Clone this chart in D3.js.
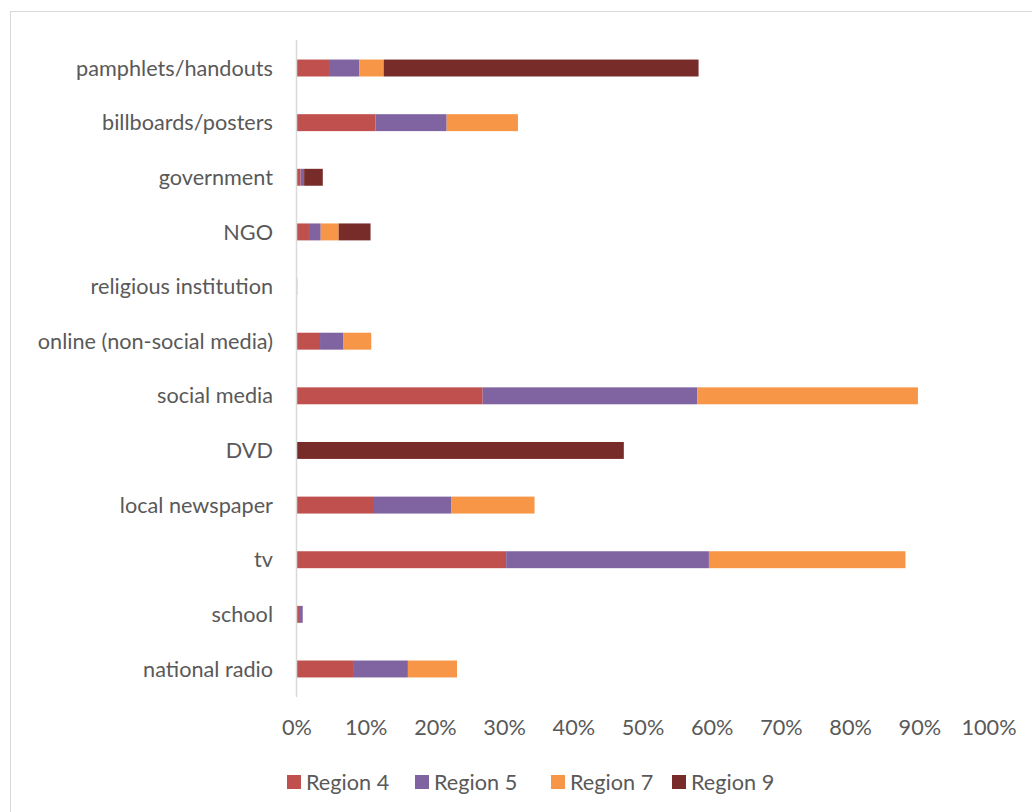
<!DOCTYPE html>
<html>
<head>
<meta charset="utf-8">
<script src="https://cdn.jsdelivr.net/npm/d3@7"></script>
<style>
  html, body { margin: 0; padding: 0; background: #fff; }
  svg { display: block; }
  text { font-family: Lato, "Open Sans", sans-serif; fill: #595959; }
</style>
</head>
<body>
<svg id="chart" width="1032" height="812"></svg>
<script>
const categories = ["pamphlets/handouts", "billboards/posters", "government", "NGO",
  "religious institution", "online (non-social media)", "social media", "DVD",
  "local newspaper", "tv", "school", "national radio"];
const seriesNames = ["Region 4", "Region 5", "Region 7", "Region 9"];
const region4 = [4.7, 11.4, 0.6, 1.8, 0.1, 3.4, 26.9, 0, 11.2, 30.3, 0.5, 8.3];
const region5 = [4.4, 10.3, 0.5, 1.7, 0, 3.4, 31.0, 0, 11.2, 29.3, 0.4, 7.8];
const region7 = [3.5, 10.3, 0, 2.6, 0, 4.0, 31.9, 0, 12.0, 28.4, 0, 7.1];
const region9 = [45.5, 0, 2.7, 4.6, 0, 0, 0, 47.3, 0, 0, 0, 0];
const colors = ["#C0504D", "#8064A2", "#F79646", "#772C2A"];
const xTicks = [0, 10, 20, 30, 40, 50, 60, 70, 80, 90, 100];

const seriesValues = [region4, region5, region7, region9];
const table = categories.map((c, i) => {
  const row = { cat: c };
  seriesNames.forEach((s, j) => row[s] = seriesValues[j][i]);
  return row;
});

const svg = d3.select("#chart");

// fit font size so label widths resemble the original
const probe = svg.append("text").attr("font-size", 100).text("pamphlets/handouts");
const w100 = probe.node().getComputedTextLength();
probe.remove();
const fs = Math.min(24, 100 * 197 / w100);

// outer frame
svg.append("rect").attr("x", 10.5).attr("y", 11.5).attr("width", 1040).attr("height", 820)
  .attr("fill", "none").attr("stroke", "#d9d9d9").attr("stroke-width", 1);

const x = d3.scaleLinear().domain([0, 100]).range([296.5, 988.5]);
const y = d3.scaleBand().domain(categories).range([40.7, 696.3]).paddingInner(0.69).paddingOuter(0.345);

const stack = d3.stack().keys(seriesNames)(table);

svg.append("g").selectAll("g").data(stack).join("g")
  .attr("fill", (d, i) => colors[i])
  .selectAll("rect").data(d => d).join("rect")
  .attr("x", d => x(d[0]))
  .attr("y", d => y(d.data.cat))
  .attr("width", d => Math.max(0, x(d[1]) - x(d[0])))
  .attr("height", y.bandwidth());

// vertical axis line
svg.append("line").attr("x1", 296.5).attr("x2", 296.5).attr("y1", 40).attr("y2", 697)
  .attr("stroke", "#d9d9d9").attr("stroke-width", 1.5);

// category labels
svg.append("g").selectAll("text").data(categories).join("text")
  .attr("x", 273).attr("y", d => y(d) + y.bandwidth() / 2)
  .attr("dy", "0.35em").attr("text-anchor", "end").attr("font-size", fs)
  .text(d => d);

// x tick labels
const xAxis = d3.axisBottom(x).tickValues(xTicks).tickFormat(d => d + "%").tickSize(0).tickPadding(0);
const gx = svg.append("g").attr("transform", "translate(0,720)").call(xAxis);
gx.select(".domain").remove();
gx.selectAll("text").attr("font-size", fs).attr("font-family", "Lato, 'Open Sans', sans-serif")
  .attr("fill", "#595959").attr("dy", "0.71em");

// legend
const legendX = [287, 415, 551, 672];
const lg = svg.append("g").selectAll("g").data(seriesNames).join("g")
  .attr("transform", (d, i) => `translate(${legendX[i]},775)`);
lg.append("rect").attr("width", 14).attr("height", 14).attr("fill", (d, i) => colors[i]);
lg.append("text").attr("x", 19).attr("y", 7).attr("dy", "0.35em").attr("font-size", fs).text(d => d);
</script>
</body>
</html>
